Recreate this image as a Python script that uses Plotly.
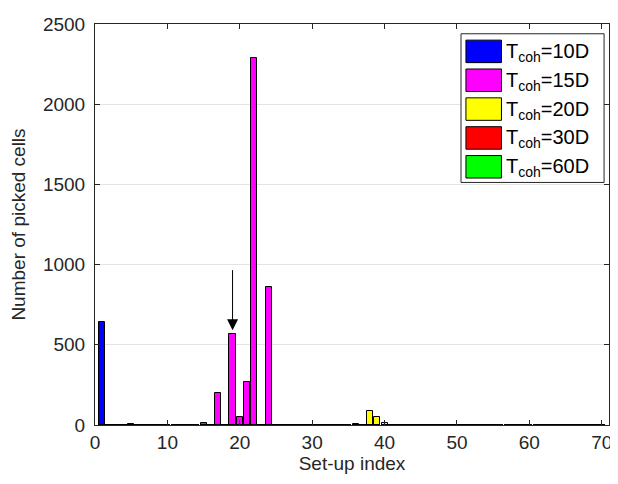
import plotly.graph_objects as go

# ---- data ----
setup_index = list(range(1, 71))
series_names = ["10D", "15D", "20D", "30D", "60D"]
series_colors = ["#0000ff", "#ff00ff", "#ffff00", "#ff0000", "#00ff00"]

t10_idx = [1, 5]
t10_val = [645, 5]
t15_idx = [15, 17, 19, 20, 21, 22, 24]
t15_val = [10, 200, 570, 50, 270, 2290, 860]
t20_idx = [36, 38, 39, 40, 41]
t20_val = [5, 85, 50, 15, 3]
t30_idx = []
t30_val = []
t60_idx = []
t60_val = []

arrow_x = 19
arrow_tail_y = 975
arrow_head_y = 590

x_ticks = [0, 10, 20, 30, 40, 50, 60, 70]
y_ticks = [0, 500, 1000, 1500, 2000, 2500]


def full(idx, val):
    d = dict(zip(idx, val))
    return [d.get(i, 0) for i in setup_index]


series_vals = [full(t10_idx, t10_val), full(t15_idx, t15_val), full(t20_idx, t20_val),
               full(t30_idx, t30_val), full(t60_idx, t60_val)]

FONT = "Liberation Sans, Arial, Helvetica, sans-serif"
OFF = 8  # page body margin of the generated html
W, H = 618 - OFF, 484 - OFF
# plot area in page pixels: x 91..612, y 15..425
ML, MT = 91 - OFF, 15 - OFF
MR, MB = W - (612 - OFF), H - (425 - OFF)
PW, PH = W - ML - MR, H - MT - MB


def px(xpage):
    return (xpage - OFF - ML) / PW


def py(ypage):
    return (H - MB - (ypage - OFF)) / PH


fig = go.Figure()
for name, col, vals in zip(series_names, series_colors, series_vals):
    fig.add_trace(go.Bar(
        x=setup_index, y=vals, name=f"T<sub>coh</sub>={name}",
        marker=dict(color=col, line=dict(color="black", width=1)),
        width=0.85, showlegend=False,
    ))

fig.add_annotation(
    x=arrow_x, y=arrow_head_y, ax=arrow_x, ay=arrow_tail_y,
    xref="x", yref="y", axref="x", ayref="y",
    showarrow=True, arrowhead=2, arrowsize=2.2, arrowwidth=1, arrowcolor="black", text="",
)

# legend box drawn like the reference (large swatches)
shapes = [dict(type="rect", xref="paper", yref="paper",
               x0=px(462), x1=px(607), y0=py(177), y1=py(25),
               fillcolor="white", line=dict(color="#262626", width=1), layer="above")]
row0, row_step = 43, 29.5
for i, (name, col) in enumerate(zip(series_names, series_colors)):
    cy = row0 + i * row_step
    shapes.append(dict(type="rect", xref="paper", yref="paper",
                       x0=px(467), x1=px(503), y0=py(cy + 11.5), y1=py(cy - 11.5),
                       fillcolor=col, line=dict(color="black", width=1), layer="above"))
    fig.add_annotation(
        x=px(506), y=py(cy + 1), xref="paper", yref="paper",
        xanchor="left", yanchor="middle", showarrow=False,
        text=f"T<sub>coh</sub>={name}", font=dict(size=20, color="black", family=FONT),
    )

fig.update_layout(
    width=W, height=H,
    margin=dict(l=ML, r=MR, t=MT, b=MB),
    paper_bgcolor="white", plot_bgcolor="white",
    barmode="overlay", bargap=0,
    font=dict(family=FONT, size=19, color="#262626"),
    showlegend=False,
    shapes=shapes,
)
fig.update_xaxes(
    range=[0, 71], tickvals=x_ticks, ticks="inside", ticklen=5, tickcolor="#262626",
    showline=True, linecolor="#262626", linewidth=1, mirror="ticks",
    showgrid=False, zeroline=False, ticklabeloverflow="allow",
    title=dict(text="Set-up index", standoff=2, font=dict(size=19)),
    tickfont=dict(size=19),
)
fig.update_yaxes(
    range=[0, 2500], tickvals=y_ticks, ticks="inside", ticklen=5, tickcolor="#262626",
    showline=True, linecolor="#262626", linewidth=1, mirror="ticks",
    showgrid=True, gridcolor="#e3e3e3", zeroline=False, ticklabelstandoff=5,
    ticklabeloverflow="allow",
    title=dict(text="Number of picked cells", standoff=16, font=dict(size=19)),
    tickfont=dict(size=19),
)

fig.write_html("out.html")
